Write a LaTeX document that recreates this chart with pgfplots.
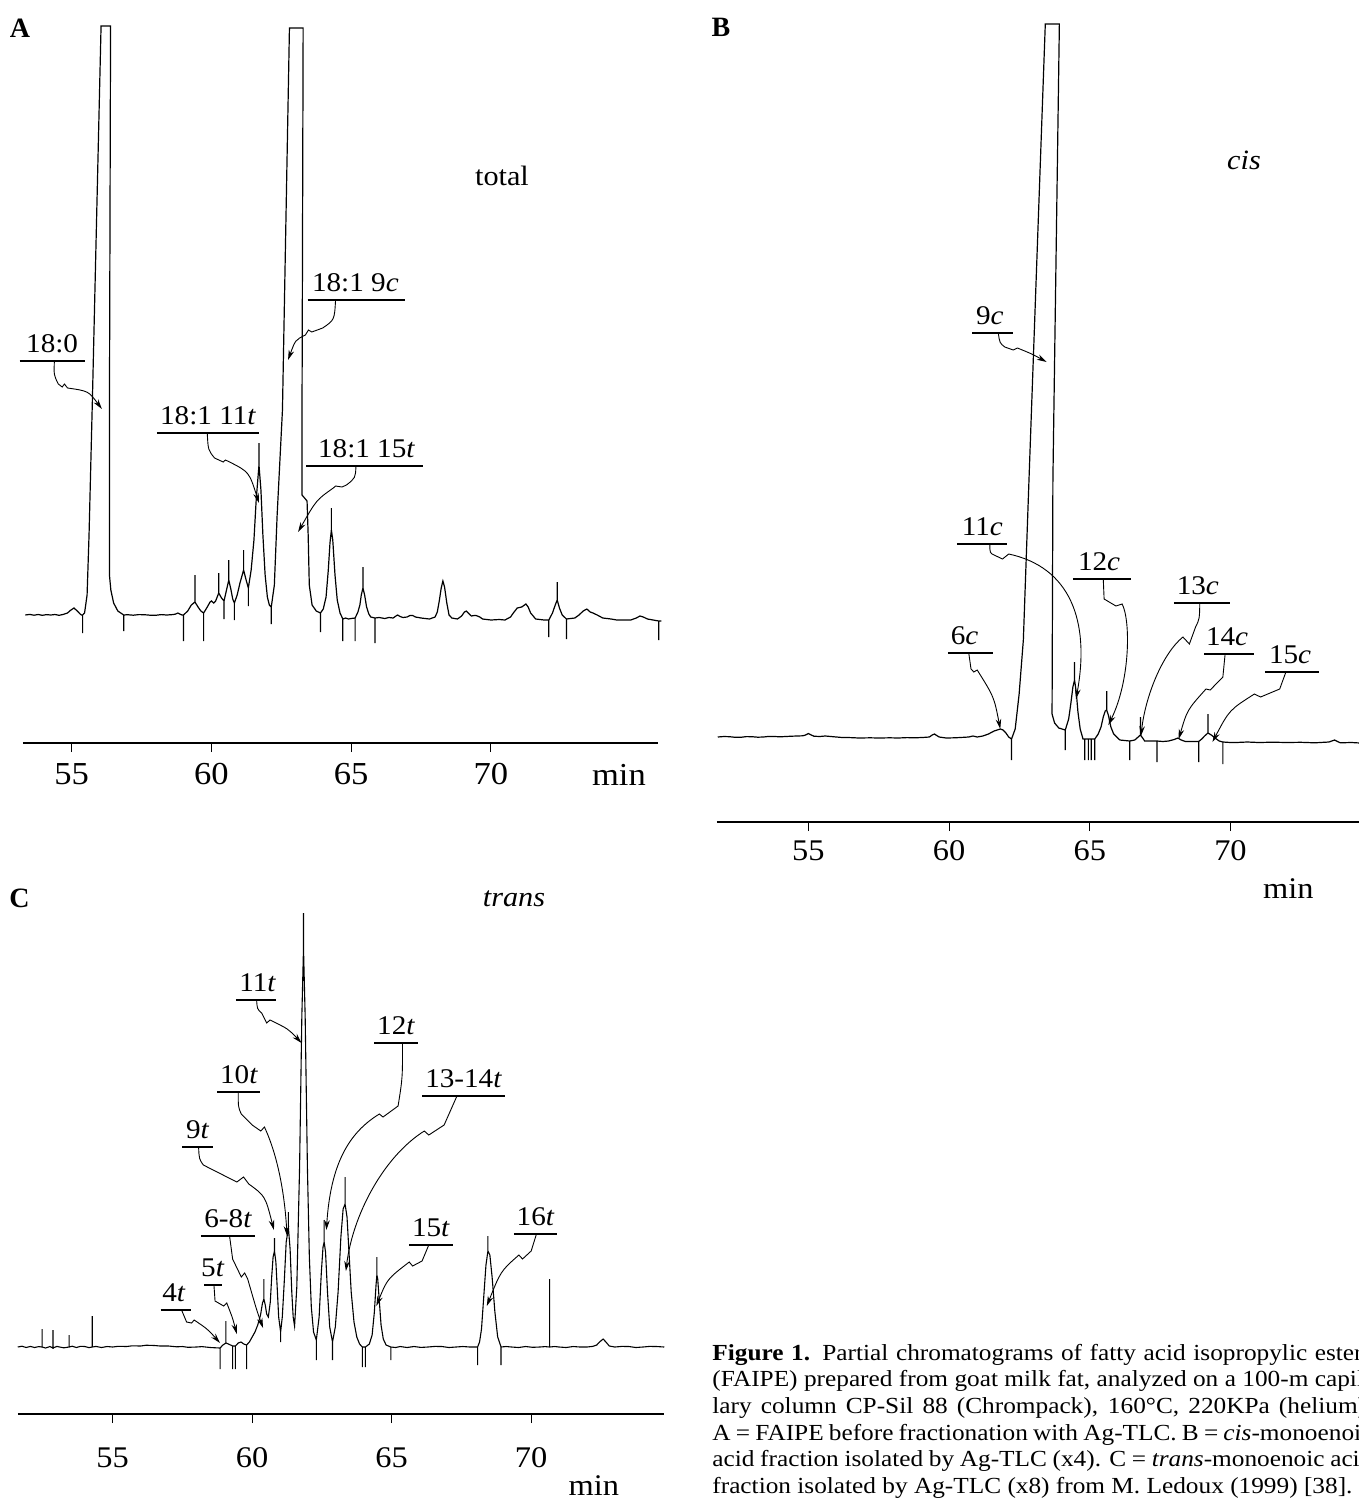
\documentclass[border=0pt]{standalone}
\usepackage{fontspec}
\setmainfont{Liberation Serif}
\newfontfamily\capfont[FakeStretch=1.1]{Liberation Serif}
\newfontfamily\labfont[FakeStretch=1.08]{Liberation Serif}
\usepackage{pgfplots}
\pgfplotsset{compat=1.18}
\usetikzlibrary{arrows.meta}
\tikzset{
  lab/.style={font=\labfont\fontsize{13.5}{13.5}\selectfont, inner sep=0pt, anchor=base},
  ul/.style={line width=0.55pt},
  arr/.style={line width=0.45pt, -{Stealth[length=5pt,width=2.8pt]}},
}
\pgfplotsset{chrom/.style={
  scale only axis, clip=false,
  axis x line*=bottom, axis y line=none,
  y=0.5pt,
  xtick={55,60,65,70},
  tick align=outside, major tick length=4.5pt,
  axis line style={line width=0.75pt},
  tick style={line width=0.5pt, black},
  xticklabel style={anchor=north, inner sep=0pt},
  /pgf/number format/assume math mode=true,
}}
\begin{document}
\begin{tikzpicture}
\useasboundingbox (0,0) rectangle (679.5pt,-749.5pt);
\clip (0,0) rectangle (679.5pt,-749.5pt);

% ---------------- Panel A ----------------
\begin{axis}[chrom, x=13.975pt, xmin=53.25, xmax=75.98, ymin=-128, ymax=590,
  at={(11.4pt,-371.5pt)}, anchor=south west,
  xticklabel style={font=\labfont\fontsize{16}{16}\selectfont}, xticklabel shift=5.5pt]
\addplot[black, line width=0.6pt] coordinates {
(53.34,0) (53.5,0.6) (53.65,-0.2) (53.8,0.5) (53.95,-0.3) (54.1,0.4) (54.25,0) (54.4,0.5) (54.55,-0.3) (54.7,0.6) (54.85,2) (54.95,4.5) (55.08,7) (55.2,4) (55.3,1) (55.35,0)
(55.39,0) (55.39,-18) (55.39,0)
(55.46,2) (55.55,20) (55.62,80) (55.74,215) (56.05,589) (56.39,589) (56.35,205) (56.35,40) (56.4,25) (56.5,12) (56.65,4) (56.86,0)
(56.86,-16) (56.86,0)
(57.0,0.3) (57.2,-0.2) (57.4,0.4) (57.6,0.3) (57.8,-0.2) (58.0,-0.3) (58.2,0.4) (58.4,0) (58.6,0.4) (58.7,0.8) (58.8,2) (58.9,0.5) (58.95,0)
(59.0,0) (59.0,-26) (59.0,0)
(59.15,4) (59.28,10) (59.41,13) (59.41,40) (59.41,13) (59.52,8) (59.62,4) (59.72,2) (59.72,-26) (59.72,2)
(59.85,8) (59.95,13) (60.0,14) (60.08,12) (60.15,14) (60.26,22) (60.26,42) (60.26,22) (60.36,17)
(60.45,14) (60.45,-4) (60.45,14)
(60.53,24) (60.62,35) (60.62,55) (60.62,35) (60.7,25) (60.76,16) (60.82,12) (60.82,-5) (60.82,12)
(60.92,20) (61.02,32) (61.15,45) (61.15,65) (61.15,45) (61.24,35) (61.32,27) (61.32,9) (61.32,27)
(61.42,45) (61.52,75) (61.6,115) (61.7,150) (61.7,172) (61.7,150) (61.77,125) (61.84,80) (61.92,40) (62.0,18) (62.07,10)
(62.14,8) (62.14,-9) (62.14,8)
(62.25,30) (62.35,100) (62.54,205) (62.79,587) (63.28,587) (63.24,205) (63.24,120) (63.3,118) (63.42,114)
(63.46,80) (63.5,30) (63.6,10) (63.75,4) (63.9,2) (63.9,-17) (63.9,2)
(64.0,6) (64.1,18) (64.18,45) (64.24,72) (64.29,85) (64.29,107) (64.29,85) (64.34,75) (64.42,40) (64.5,15) (64.6,2)
(64.7,-4) (64.7,-26) (64.7,-4) (64.8,-3) (64.9,-4) (65.0,-3.5) (65.14,-3) (65.14,-26) (65.14,-3)
(65.24,3) (65.31,10) (65.36,20) (65.42,27) (65.42,48) (65.42,27) (65.48,20) (65.55,8) (65.63,1) (65.7,-2) (65.85,-3) (65.85,-28) (65.85,-3)
(66.0,-2.5) (66.2,-3.5) (66.35,-2.5) (66.5,-3) (66.6,-1) (66.66,0) (66.75,-1.5) (66.85,-2.5) (67.0,-2) (67.1,-0.5) (67.2,-0.5) (67.3,-2) (67.5,-3) (67.8,-4)
(68.0,-2) (68.08,3) (68.15,14) (68.22,27) (68.28,34) (68.34,28) (68.42,12) (68.5,0) (68.6,-3) (68.8,-4) (68.95,-1) (69.05,3) (69.12,4) (69.22,1) (69.3,-1) (69.4,-0.5) (69.47,-0.5) (69.6,-2)
(69.7,-4) (70.0,-5) (70.3,-4.5) (70.5,-5) (70.7,-2) (70.8,2) (70.94,7) (71.1,8) (71.25,11) (71.33,8) (71.42,2) (71.6,-4) (71.9,-5)
(72.07,-5) (72.07,-22) (72.07,-5)
(72.2,2) (72.3,10) (72.37,15) (72.37,33) (72.37,15) (72.45,7) (72.55,0) (72.7,-4) (72.7,-24) (72.7,-4)
(73.0,-3) (73.15,0) (73.3,4) (73.43,6) (73.55,3) (73.65,2) (73.8,0) (74.0,-3) (74.3,-4) (74.5,-5) (75.0,-5) (75.2,-3) (75.33,-1) (75.45,-2) (75.6,-4) (75.8,-5)
(76.0,-6) (76.0,-25) (76.0,-6) (76.1,-6)
};
\node[lab] at (54.3,263) {18:0};
\draw[ul] (53.14,254) -- (55.46,254);
\draw[arr] (54.38,254) .. controls (54.36,240) .. (54.52,231) -- (54.66,228) -- (54.74,231) -- (54.85,227) .. controls (55.6,224) .. (56.08,206);
\node[lab] at (65.15,324) {18:1 9\textit{c}};
\draw[ul] (63.44,315) -- (66.92,315);
\draw[arr] (64.44,315) .. controls (64.4,295) .. (63.98,287) -- (63.59,283) -- (63.47,285) -- (63.36,280) .. controls (63.0,275) .. (62.74,255);
\node[lab] at (59.88,191) {18:1 11\textit{t}};
\draw[ul] (58.05,182) -- (61.7,182);
\draw[arr] (59.85,182) .. controls (59.88,165) .. (60.11,157) -- (60.42,153) -- (60.5,155) -- (60.65,153) .. controls (61.35,143) .. (61.7,112);
\node[lab] at (65.55,158) {18:1 15\textit{t}};
\draw[ul] (63.39,149) -- (67.57,149);
\draw[arr] (65.17,149) .. controls (65.15,137) .. (64.83,130) -- (64.67,128) -- (64.44,129) -- (64.36,127) .. controls (63.75,115) .. (63.1,83);
\node[font=\labfont\fontsize{16}{16}\selectfont, anchor=base, inner sep=0pt] at (74.58,-128) [yshift=-21pt] {min};
\end{axis}

% ---------------- Panel B ----------------
\begin{axis}[chrom, x=14.07pt, xmin=51.75, xmax=75, ymin=-85, ymax=713,
  at={(358.45pt,-411pt)}, anchor=south west,
  xticklabel style={font=\labfont\fontsize{15}{15}\selectfont}, xticklabel shift=4.5pt]
\addplot[black, line width=0.6pt] coordinates {
(51.78,0) (52.0,0.5) (52.2,0.3) (52.4,-0.3) (52.6,-0.3) (52.8,0.4) (53.0,0.3) (53.2,-0.2) (53.4,0) (53.6,0.6) (53.8,0.5) (54.0,0.2) (54.2,0.5) (54.4,0.8) (54.6,1) (54.8,1.2) (54.9,2) (55.0,3.5)
(55.1,2) (55.2,0.8) (55.4,0.5) (55.6,1) (55.8,0.5) (56.0,0) (56.2,-0.5) (56.5,-0.6) (56.8,-1) (57.2,-0.8) (57.5,-1) (57.9,-0.8) (58.2,-1) (58.5,-0.6) (58.8,-0.8) (59.1,-0.4) (59.3,0) (59.4,2) (59.48,3)
(59.56,1.5) (59.65,0) (59.9,-1) (60.2,-0.8) (60.4,-0.5) (60.7,0) (60.85,1) (61.0,0) (61.2,1) (61.4,3) (61.6,6) (61.82,8) (61.92,7) (62.02,4) (62.12,0)
(62.22,-2) (62.22,-23) (62.22,-2)
(62.35,8) (62.49,43) (62.64,97) (62.84,257) (63.42,713) (63.92,713) (63.69,257) (63.66,23) (63.75,14) (63.9,9)
(64.13,7) (64.13,-13) (64.13,7)
(64.25,18) (64.33,34) (64.4,50) (64.46,57) (64.46,75) (64.46,57) (64.52,45) (64.58,25) (64.66,8) (64.76,-2)
(64.82,-2) (64.82,-23) (64.82,-2) (64.95,-2) (64.95,-23) (64.95,-2) (65.05,-2) (65.05,-23) (65.05,-2) (65.18,-2) (65.18,-23) (65.18,-2)
(65.3,3) (65.4,10) (65.48,20) (65.55,26) (65.6,27) (65.6,46) (65.6,27) (65.66,22) (65.75,10) (65.85,3) (66.07,-3)
(66.42,-4) (66.42,-23) (66.42,-4)
(66.6,-3) (66.72,0) (66.8,2) (66.8,20) (66.8,2) (66.88,-1) (66.95,-4)
(67.39,-4) (67.39,-25) (67.39,-4)
(67.6,-4.5) (67.8,-4) (68.0,-2.5) (68.13,-1) (68.25,-3) (68.4,-4.5) (68.6,-4.5) (68.87,-4.5) (68.87,-25) (68.87,-4.5)
(68.98,-2) (69.08,1) (69.2,4) (69.2,23) (69.2,4) (69.32,2) (69.45,-1) (69.6,-4) (69.73,-5) (69.73,-27) (69.73,-5)
(70.0,-5.5) (70.2,-5.5) (70.6,-5) (71.0,-5.5) (71.5,-5.2) (72.0,-5.5) (72.5,-5.3) (73.0,-5.8) (73.5,-5) (73.7,-3) (73.9,-5.8) (74.3,-5.5) (74.6,-6) (75.0,-6)
};
\node[lab] at (61.45,413) {9\textit{c}};
\draw[ul] (60.83,404) -- (62.28,404);
\draw[arr] (61.75,404) .. controls (61.8,394) .. (61.98,390) -- (62.28,387) -- (62.43,389) .. controls (62.95,383) .. (63.47,375);
\node[lab] at (61.18,202) {11\textit{c}};
\draw[ul] (60.28,193) -- (62.07,193);
\draw[arr] (61.45,193) .. controls (61.45,184) .. (61.6,182) -- (61.9,178) -- (62.12,183) .. controls (64.28,170) and (65.03,117) .. (64.51,38);
\node[lab] at (65.33,167) {12\textit{c}};
\draw[ul] (64.4,158) -- (66.45,158);
\draw[arr] (65.48,158) -- (65.51,138) -- (65.93,131) -- (66.15,133) .. controls (66.45,117) and (66.45,57) .. (65.66,12);
\node[lab] at (68.84,143) {13\textit{c}};
\draw[ul] (67.99,134) -- (69.99,134);
\draw[arr] (68.91,134) .. controls (68.9,118) .. (68.76,110) -- (68.54,93) -- (68.31,100) .. controls (67.57,83) and (66.97,40) .. (66.82,1);
\node[lab] at (69.88,92) {14\textit{c}};
\draw[ul] (69.06,83) -- (70.85,83);
\draw[arr] (69.81,83) -- (69.73,60) -- (69.28,47) -- (69.13,48) .. controls (68.46,27) .. (68.16,-2);
\node[lab] at (72.12,74) {15\textit{c}};
\draw[ul] (71.22,65) -- (73.16,65);
\draw[arr] (71.97,65) -- (71.75,48) -- (71.07,40) -- (70.85,43) .. controls (69.96,27) .. (69.36,-5);
\node[lab] at (60.55,93) {6\textit{c}};
\draw[ul] (59.96,84) -- (61.57,84);
\draw[arr] (60.7,84) -- (60.78,68) -- (60.88,65) -- (61.0,67) .. controls (61.6,40) .. (61.82,8);
\node[font=\labfont\fontsize{15}{15}\selectfont, anchor=base, inner sep=0pt] at (72.06,-85) [yshift=-38pt] {min};
\end{axis}

% ---------------- Panel C ----------------
\begin{axis}[chrom, x=13.95pt, xmin=51.6, xmax=74.77, ymin=-67, ymax=440,
  at={(8.9pt,-707pt)}, anchor=south west,
  xticklabel style={font=\labfont\fontsize{15}{15}\selectfont}, xticklabel shift=12pt]
\addplot[black, line width=0.55pt] coordinates {
(51.6,0) (51.75,0.8) (51.9,-0.5) (52.05,0.6) (52.2,-0.5) (52.35,0.4) (52.47,0) (52.47,18) (52.47,0) (52.6,-1) (52.75,0.5)
(52.86,-1) (52.86,17) (52.86,-1) (53.0,0.6) (53.1,0) (53.25,-0.8) (53.44,0) (53.44,12) (53.44,0) (53.55,0.8) (53.7,-0.5) (53.85,0.7) (54.0,0.5) (54.15,-0.6)
(54.27,0) (54.27,31) (54.27,0) (54.4,0.6) (54.6,-0.5) (54.8,0.5) (55.0,0) (55.2,0.7) (55.5,0.5) (55.7,1.2) (56.0,1) (56.2,1.8) (56.5,1.5) (56.7,1) (57.0,1)
(57.3,0.2) (57.5,0.5) (57.7,-0.3) (58.0,0) (58.2,0.4) (58.5,-0.5) (58.7,-0.8)
(58.85,-1) (58.85,-22) (58.85,-1)
(58.95,2) (59.06,4) (59.06,26) (59.06,4) (59.15,3) (59.3,1) (59.3,-22) (59.3,1) (59.4,1) (59.4,-22) (59.4,1)
(59.5,4) (59.6,5) (59.7,3) (59.8,2) (59.8,-22) (59.8,2)
(59.9,5) (60.0,10) (60.1,15) (60.2,22) (60.3,32) (60.37,44) (60.42,48) (60.42,68) (60.42,48) (60.47,42) (60.52,33) (60.58,30)
(60.65,45) (60.7,70) (60.75,90) (60.8,96) (60.8,109) (60.8,96) (60.85,85) (60.9,58) (60.95,30)
(61.02,15) (61.02,5) (61.02,15)
(61.08,30) (61.15,65) (61.22,105) (61.3,119) (61.3,135) (61.3,119) (61.36,98) (61.42,55) (61.47,30) (61.52,21)
(61.6,60) (61.7,180) (61.78,330) (61.84,399) (61.84,434) (61.84,399) (61.9,330) (61.98,180) (62.05,90) (62.12,40) (62.2,15)
(62.3,7) (62.3,-13) (62.3,7)
(62.4,30) (62.48,75) (62.54,100) (62.58,105) (62.58,127) (62.58,105) (62.63,95) (62.7,55) (62.78,20)
(62.88,5) (62.88,-13) (62.88,5)
(62.98,20) (63.08,55) (63.18,110) (63.26,138) (63.33,143) (63.33,170) (63.33,143) (63.4,130) (63.47,95) (63.55,55) (63.65,25) (63.75,10) (63.85,3)
(63.95,0) (63.95,-20) (63.95,0) (64.06,0) (64.06,-20) (64.06,0)
(64.2,3) (64.3,12) (64.38,35) (64.44,62) (64.47,72) (64.47,90) (64.47,72) (64.5,68) (64.56,45) (64.62,22) (64.7,8) (64.8,2)
(64.97,0) (64.97,-13) (64.97,0)
(65.15,-0.5) (65.3,0.5) (65.55,-0.5) (65.8,0.5) (66.05,-0.4) (66.3,0) (66.55,0.6) (66.8,0.5) (67.05,-0.5) (67.3,0) (67.55,0.5) (67.8,0)
(68.08,0) (68.08,-18) (68.08,0)
(68.15,5) (68.22,18) (68.3,50) (68.38,82) (68.45,96) (68.45,111) (68.45,96) (68.52,92) (68.6,70) (68.7,35) (68.8,10)
(68.92,0) (68.92,-18) (68.92,0)
(69.1,0.5) (69.3,0) (69.55,-0.5) (69.8,0.5) (70.05,-0.3) (70.3,0) (70.5,0.4)
(70.66,0) (70.66,68) (70.66,0)
(70.85,0.5) (71.0,0) (71.25,-0.5) (71.5,0.5) (71.75,0) (72.0,0) (72.2,0.6) (72.35,2) (72.45,5) (72.58,8) (72.68,5) (72.8,1) (73.0,0)
(73.25,0.6) (73.5,0.5) (73.75,-0.5) (74.0,0) (74.25,0.6) (74.5,0.5) (74.77,0)
};
\node[lab] at (60.2,356) {11\textit{t}};
\draw[ul] (59.42,347) -- (60.85,347);
\draw[arr] (60.16,347) .. controls (60.18,338) .. (60.34,334) -- (60.52,324) -- (60.64,327) .. controls (61.3,318) .. (61.77,304);
\node[lab] at (59.53,264) {10\textit{t}};
\draw[ul] (58.75,255) -- (60.28,255);
\draw[arr] (59.5,255) .. controls (59.5,240) .. (59.61,233) -- (60.0,222) -- (60.31,216) -- (60.44,220) .. controls (60.94,190) and (61.17,151) .. (61.25,111);
\node[lab] at (58.05,209) {9\textit{t}};
\draw[ul] (57.5,200) -- (58.59,200);
\draw[arr] (58.08,200) .. controls (58.1,188) .. (58.25,182) -- (59.45,165) -- (59.69,170) -- (59.88,163) .. controls (60.47,151) .. (60.78,117);
\node[lab] at (59.14,120) {6-8\textit{t}};
\draw[ul] (58.16,111) -- (60.11,111);
\draw[arr] (59.19,111) -- (59.3,88) -- (59.61,70) -- (59.73,74) -- (59.84,68) .. controls (60.16,37) .. (60.39,19);
\node[lab] at (58.59,71) {5\textit{t}};
\draw[ul] (58.28,62) -- (58.91,62);
\draw[arr] (58.63,62) -- (58.67,46) -- (58.98,41) -- (59.09,44) .. controls (59.3,29) .. (59.45,13);
\node[lab] at (57.2,46) {4\textit{t}};
\draw[ul] (56.72,37) -- (57.8,37);
\draw[arr] (57.47,37) -- (57.65,25) -- (57.83,24) -- (57.92,27) .. controls (58.4,18) .. (58.85,4);
\node[lab] at (65.16,313) {12\textit{t}};
\draw[ul] (64.38,304) -- (65.94,304);
\draw[arr] (65.39,304) .. controls (65.39,269) .. (65.23,241) -- (64.69,230) -- (64.56,233) .. controls (63.44,214) and (62.81,182) .. (62.66,117);
\node[lab] at (67.58,260) {13-14\textit{t}};
\draw[ul] (66.09,251) -- (69.06,251);
\draw[arr] (67.34,251) -- (66.88,222) -- (66.33,212) -- (66.17,216) .. controls (64.69,190) and (63.59,131) .. (63.36,76);
\node[lab] at (66.41,111) {15\textit{t}};
\draw[ul] (65.63,102) -- (67.19,102);
\draw[arr] (66.33,102) -- (66.09,86) -- (65.75,81) -- (65.63,85) .. controls (64.84,68) .. (64.45,41);
\node[lab] at (70.16,122) {16\textit{t}};
\draw[ul] (69.38,113) -- (70.94,113);
\draw[arr] (70.19,113) -- (70.0,96) -- (69.69,88) -- (69.56,92) .. controls (68.91,76) .. (68.41,41);
\node[font=\labfont\fontsize{15}{15}\selectfont, anchor=base, inner sep=0pt] at (72.25,-67) [yshift=-40.5pt] {min};
\end{axis}

% ---------------- panel letters and titles ----------------
\node[font=\fontsize{14}{14}\selectfont\bfseries] at (10pt,-14pt) {A};
\node[font=\fontsize{14}{14}\selectfont\bfseries] at (360.5pt,-13.5pt) {B};
\node[font=\fontsize{14}{14}\selectfont\bfseries] at (9.75pt,-449pt) {C};
\node[font=\labfont\fontsize{14}{14}\selectfont] at (251pt,-88pt) {total};
\node[font=\labfont\fontsize{14}{14}\selectfont\itshape] at (622pt,-80pt) {cis};
\node[font=\labfont\fontsize{14}{14}\selectfont\itshape] at (257pt,-449.5pt) {trans};

% ---------------- caption ----------------
\begin{scope}[every node/.style={anchor=base west, inner sep=0pt, font=\capfont\fontsize{11.5}{13.33}\selectfont}]
\node at (356pt,-680pt) {\makebox[330pt][s]{\textbf{Figure 1.} Partial chromatograms of fatty acid isopropylic esters}};
\node at (356pt,-693.33pt) {\makebox[330pt][s]{(FAIPE) prepared from goat milk fat, analyzed on a 100-m capil-}};
\node at (356pt,-706.67pt) {\makebox[330pt][s]{lary column CP-Sil 88 (Chrompack), 160°C, 220KPa (helium).}};
\node at (356pt,-720pt) {\makebox[330pt][s]{A = FAIPE before fractionation with Ag-TLC. B = \textit{cis}-monoenoic}};
\node at (356pt,-733.33pt) {\makebox[330pt][s]{acid fraction isolated by Ag-TLC (x4). C = \textit{trans}-monoenoic acid}};
\node at (356pt,-746.67pt) {fraction isolated by Ag-TLC (x8) from M. Ledoux (1999) [38].};
\end{scope}
\end{tikzpicture}
\end{document}
